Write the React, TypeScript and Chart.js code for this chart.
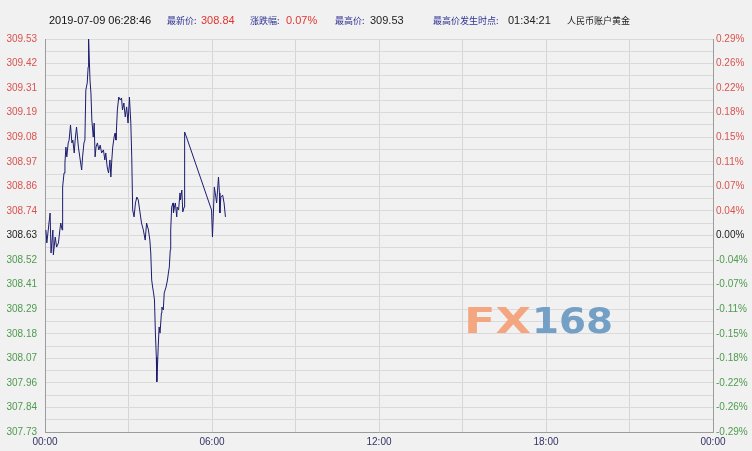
import React, { useEffect, useRef } from "react";
import { Chart, registerables } from "chart.js";

Chart.register(...registerables);

// ---- data (minutes after 00:00, price) ----
const minutes = [
  2, 4, 7, 11, 13, 17, 18, 22, 25, 29,
  32, 34, 37, 38, 41, 43, 45, 47, 50, 52,
  55, 58, 60, 63, 65, 68, 72, 75, 79, 81,
  84, 86, 88, 91, 93, 94, 97, 99, 101, 104,
  106, 108, 110, 113, 116, 119, 122, 126, 129, 131,
  134, 137, 140, 142, 144, 146, 149, 151, 153, 156,
  159, 162, 165, 167, 170, 173, 176, 179, 182, 185,
  187, 189, 192, 195, 198, 201, 205, 208, 212, 216,
  219, 223, 226, 228, 230, 232, 234, 236, 238, 240,
  241, 243, 244, 246, 248, 251, 252, 255, 257, 261,
  264, 266, 268, 270, 271, 273, 276, 277, 279, 281,
  284, 285, 288, 291, 292, 295, 297, 300, 301, 305,
  359, 361, 363, 365, 367, 370, 372, 374, 376, 377,
  379, 383, 386, 389,
];

const prices = [
  308.655, 308.596, 308.655, 308.733, 308.55, 308.655, 308.541, 308.623, 308.577, 308.596,
  308.655, 308.687, 308.655, 308.852, 308.916, 308.962, 309.035, 308.99, 309.054, 309.067,
  309.136, 309.054, 309.067, 309.008, 309.067, 309.127, 309.035, 308.99, 308.93, 308.99,
  309.054, 309.067, 309.296, 309.328, 309.402, 309.53, 309.342, 309.283, 309.159, 309.081,
  309.145, 308.99, 309.035, 309.054, 309.022, 309.044, 309.008, 309.022, 308.976, 309.008,
  308.944, 308.916, 308.976, 308.898, 308.976, 309.035, 309.081, 309.099, 309.067, 309.205,
  309.264, 309.251, 309.26, 309.205, 309.237, 309.173, 309.219, 309.145, 309.264, 309.145,
  308.99, 308.747, 308.715, 308.779, 308.806, 308.793, 308.733, 308.687, 308.655, 308.609,
  308.687, 308.655, 308.609, 308.55, 308.426, 308.394, 308.367, 308.335, 308.183, 308.073,
  307.96, 308.06, 308.119, 308.211, 308.183, 308.275, 308.302, 308.289, 308.367, 308.394,
  308.426, 308.458, 308.486, 308.564, 308.655, 308.76, 308.779, 308.733, 308.76, 308.779,
  308.715, 308.76, 308.747, 308.825, 308.793, 308.838, 308.738, 308.76, 309.104, 309.081,
  308.747, 308.623, 308.733, 308.852, 308.825, 308.779, 308.838, 308.898, 308.825, 308.733,
  308.806, 308.815, 308.779, 308.715,
];

const leftLabels = [
  "307.73", "307.84", "307.96", "308.07", "308.18", "308.29", "308.41", "308.52",
  "308.63",
  "308.74", "308.86", "308.97", "309.08", "309.19", "309.31", "309.42", "309.53",
];

const rightLabels = [
  "-0.29%", "-0.26%", "-0.22%", "-0.18%", "-0.15%", "-0.11%", "-0.07%", "-0.04%",
  "0.00%",
  "0.04%", "0.07%", "0.11%", "0.15%", "0.18%", "0.22%", "0.26%", "0.29%",
];

const xLabels = ["00:00", "", "06:00", "", "12:00", "", "18:00", "", "00:00"];

const yMin = 307.73;
const yMax = 309.53;
const xMin = 0;
const xMax = 1440;

const header = [
  { text: "2019-07-09 06:28:46", left: 49, color: "#111", cjk: false },
  { text: "最新价:", left: 167, color: "#2e3192", cjk: true },
  { text: "308.84", left: 201, color: "#e3342f", cjk: false },
  { text: "涨跌幅:", left: 250, color: "#2e3192", cjk: true },
  { text: "0.07%", left: 286, color: "#e3342f", cjk: false },
  { text: "最高价:", left: 335, color: "#2e3192", cjk: true },
  { text: "309.53", left: 370, color: "#222", cjk: false },
  { text: "最高价发生时点:", left: 433, color: "#2e3192", cjk: true },
  { text: "01:34:21", left: 508, color: "#222", cjk: false },
  { text: "人民币账户黄金", left: 567, color: "#222", cjk: true },
];

const RED = "#d9534f";
const GREEN = "#4e9a4e";
const BLACK = "#222";

// label index 0..16 from bottom; 8 is the previous close
function tickColor(i: number) {
  if (i === 8) return BLACK;
  return i > 8 ? RED : GREEN;
}

const watermark = {
  id: "watermark",
  beforeDatasetsDraw(chart: any) {
    const ctx = chart.ctx;
    ctx.save();
    ctx.font = 'bold 36px "DejaVu Sans"';
    ctx.textBaseline = "alphabetic";
    const parts = [
      { t: "FX", x: 464, w: 67, c: "#f3a680" },
      { t: "168", x: 532, w: 81, c: "#74a0c6" },
    ];
    for (const p of parts) {
      const m = ctx.measureText(p.t).width;
      ctx.save();
      ctx.translate(p.x, 333);
      ctx.scale(p.w / m, 1);
      ctx.fillStyle = p.c;
      ctx.fillText(p.t, 0, 0);
      ctx.restore();
    }
    ctx.restore();
  },
};

export default function App() {
  const ref = useRef<HTMLCanvasElement>(null);

  useEffect(() => {
    document.body.style.margin = "0";
    const points = minutes.map((m, i) => ({ x: m, y: prices[i] }));
    const yTicks: number[] = [];
    for (let i = 0; i <= 32; i++) yTicks.push(yMin + ((yMax - yMin) * i) / 32);
    const setTicks = (axis: any) => {
      axis.ticks = yTicks.map((v) => ({ value: v }));
    };
    const chart = new Chart(ref.current as HTMLCanvasElement, {
      type: "line",
      data: {
        datasets: [
          {
            data: points,
            borderColor: "#1c1c6e",
            borderWidth: 1,
            pointRadius: 0,
            tension: 0,
            fill: false,
          },
        ],
      },
      plugins: [watermark],
      options: {
        animation: false,
        responsive: false,
        events: [],
        layout: { padding: { top: 39, left: 0, right: 0, bottom: 0 } },
        plugins: { legend: { display: false }, tooltip: { enabled: false } },
        scales: {
          x: {
            type: "linear",
            min: xMin,
            max: xMax,
            afterBuildTicks: (axis: any) => {
              axis.ticks = xLabels.map((_, i) => ({ value: (i * (xMax - xMin)) / 8 }));
            },
            afterFit: (axis: any) => {
              axis.height = 19;
            },
            grid: { color: "#d6d6d6", drawTicks: false },
            border: { display: true, color: "#9c9c9c" },
            ticks: {
              autoSkip: false,
              maxRotation: 0,
              padding: 4,
              color: "#333366",
              font: { family: "Liberation Sans", size: 10 },
              callback: (_v: any, i: number) => xLabels[i],
            },
          },
          y: {
            type: "linear",
            position: "left",
            min: yMin,
            max: yMax,
            afterBuildTicks: setTicks,
            afterFit: (axis: any) => {
              axis.width = 45;
            },
            grid: { color: "#dadada", drawTicks: false },
            border: { display: true, color: "#9c9c9c" },
            ticks: {
              autoSkip: false,
              padding: 8,
              font: { family: "Liberation Sans", size: 10 },
              color: (c: any) => tickColor(c.index / 2),
              callback: (_v: any, i: number) => (i % 2 === 0 ? leftLabels[i / 2] : ""),
            },
          },
          y2: {
            type: "linear",
            position: "right",
            min: yMin,
            max: yMax,
            afterBuildTicks: setTicks,
            afterFit: (axis: any) => {
              axis.width = 39;
            },
            grid: { display: false, drawTicks: false },
            border: { display: true, color: "#9c9c9c" },
            ticks: {
              autoSkip: false,
              padding: 3,
              font: { family: "Liberation Sans", size: 10 },
              color: (c: any) => tickColor(c.index / 2),
              callback: (_v: any, i: number) => (i % 2 === 0 ? rightLabels[i / 2] : ""),
            },
          },
        },
      } as any,
    });
    return () => chart.destroy();
  }, []);

  return (
    <div
      style={{
        position: "fixed",
        left: 0,
        top: 0,
        width: 752,
        height: 451,
        background: "#f1f1f1",
        overflow: "hidden",
      }}
    >
      <canvas
        ref={ref}
        width={752}
        height={451}
        style={{ position: "absolute", left: 0, top: 0, width: 752, height: 451 }}
      />
      {header.map((h, i) => (
        <span
          key={i}
          style={{
            position: "absolute",
            left: h.left,
            top: h.cjk ? 14 : 13,
            fontFamily: h.cjk ? '"Noto Sans CJK SC", sans-serif' : '"Liberation Sans", sans-serif',
            fontSize: h.cjk ? 9 : 11,
            lineHeight: h.cjk ? "14px" : "15px",
            color: h.color,
            whiteSpace: "nowrap",
          }}
        >
          {h.text}
        </span>
      ))}
    </div>
  );
}
